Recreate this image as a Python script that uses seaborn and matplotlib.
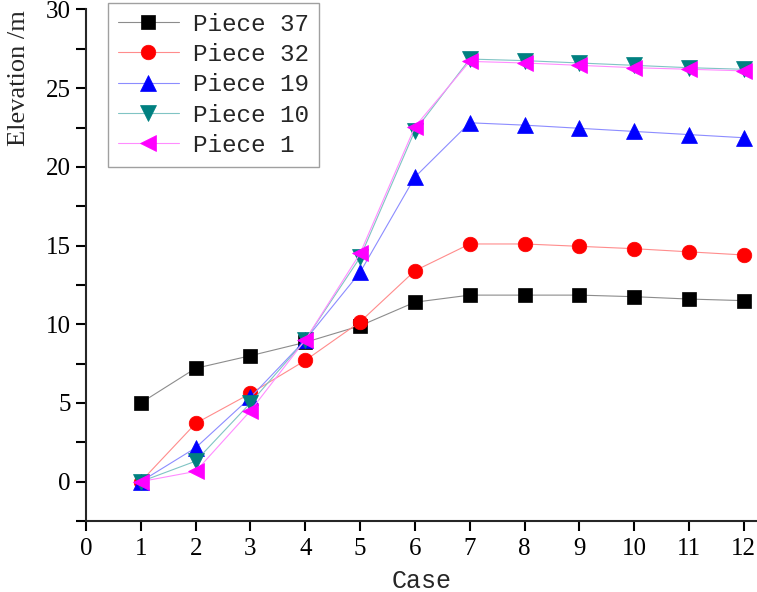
import numpy as np
import pandas as pd
import matplotlib
matplotlib.use('Agg')
import matplotlib.pyplot as plt
from matplotlib.ticker import MultipleLocator
import seaborn as sns

sns.set_style('ticks')
plt.rcParams['font.family'] = ['Liberation Serif', 'DejaVu Serif']

# data
cases = [1, 2, 3, 4, 5, 6, 7, 8, 9, 10, 11, 12]
piece_37 = [5.0, 7.2, 8.0, 8.85, 9.9, 11.4, 11.85, 11.85, 11.85, 11.75, 11.6, 11.5]
piece_32 = [0.0, 3.7, 5.6, 7.7, 10.15, 13.4, 15.1, 15.1, 14.95, 14.8, 14.6, 14.4]
piece_19 = [0.0, 2.15, 5.35, 9.0, 13.3, 19.35, 22.8, 22.65, 22.45, 22.25, 22.05, 21.85]
piece_10 = [0.0, 1.3, 5.0, 9.0, 14.25, 22.3, 26.85, 26.75, 26.6, 26.45, 26.3, 26.2]
piece_1 = [0.0, 0.65, 4.5, 9.0, 14.5, 22.55, 26.7, 26.6, 26.45, 26.3, 26.2, 26.1]

names = ['Piece 37', 'Piece 32', 'Piece 19', 'Piece 10', 'Piece 1']
series = [piece_37, piece_32, piece_19, piece_10, piece_1]
colors = ['#000000', '#ff0000', '#0000ff', '#008080', '#ff00ff']
light = ['#8c8c8c', '#ff8c8c', '#8c8cff', '#80c4c4', '#ff8cff']
markers = ['s', 'o', '^', 'v', '<']
msizes = [9.5, 10.5, 12, 12, 12]

fig = plt.figure(figsize=(7.57, 5.92), dpi=100)
ax = fig.add_axes([0.1136, 0.12, 0.8864, 0.864])

for name, vals, c, lc, m, ms in zip(names, series, colors, light, markers, msizes):
    df = pd.DataFrame({'Case': cases, 'Elevation': vals})
    sns.lineplot(data=df, x='Case', y='Elevation', ax=ax, label=name,
                 color=lc, linewidth=0.8, marker=m, markersize=ms,
                 markerfacecolor=c, markeredgecolor=c, markeredgewidth=0.5)

ax.set_xlim(0, 12.24)
ax.set_ylim(-2.5, 30)
ax.set_xticks(range(0, 13))
ax.yaxis.set_major_locator(MultipleLocator(5))
ax.yaxis.set_minor_locator(MultipleLocator(2.5))
ax.set_yticks(np.arange(0, 31, 5))

for s in ['top', 'right']:
    ax.spines[s].set_visible(False)
for s in ['left', 'bottom']:
    ax.spines[s].set_linewidth(1.5)
ax.tick_params(which='both', direction='out', length=7, width=1.5,
               labelsize=18, colors='black')
ax.tick_params(axis='x', pad=5)
ax.tick_params(axis='y', pad=4)

ax.set_xlabel('Case', family='Liberation Mono', fontsize=18, labelpad=7)
ax.set_ylabel('Elevation /m', fontsize=19)
ax.yaxis.set_label_coords(-0.083, 0.866)

leg = ax.legend(loc='upper left', bbox_to_anchor=(0.1427, 0.995),
                bbox_transform=fig.transFigure, borderaxespad=0,
                prop={'family': 'Liberation Mono', 'size': 17.5},
                handlelength=2.5, handletextpad=0.6, labelspacing=0.3,
                borderpad=0.4, fancybox=False, framealpha=1)
leg.get_frame().set_edgecolor('#a0a0a0')
leg.get_frame().set_linewidth(1.0)

fig.savefig('out.png', dpi=100)
